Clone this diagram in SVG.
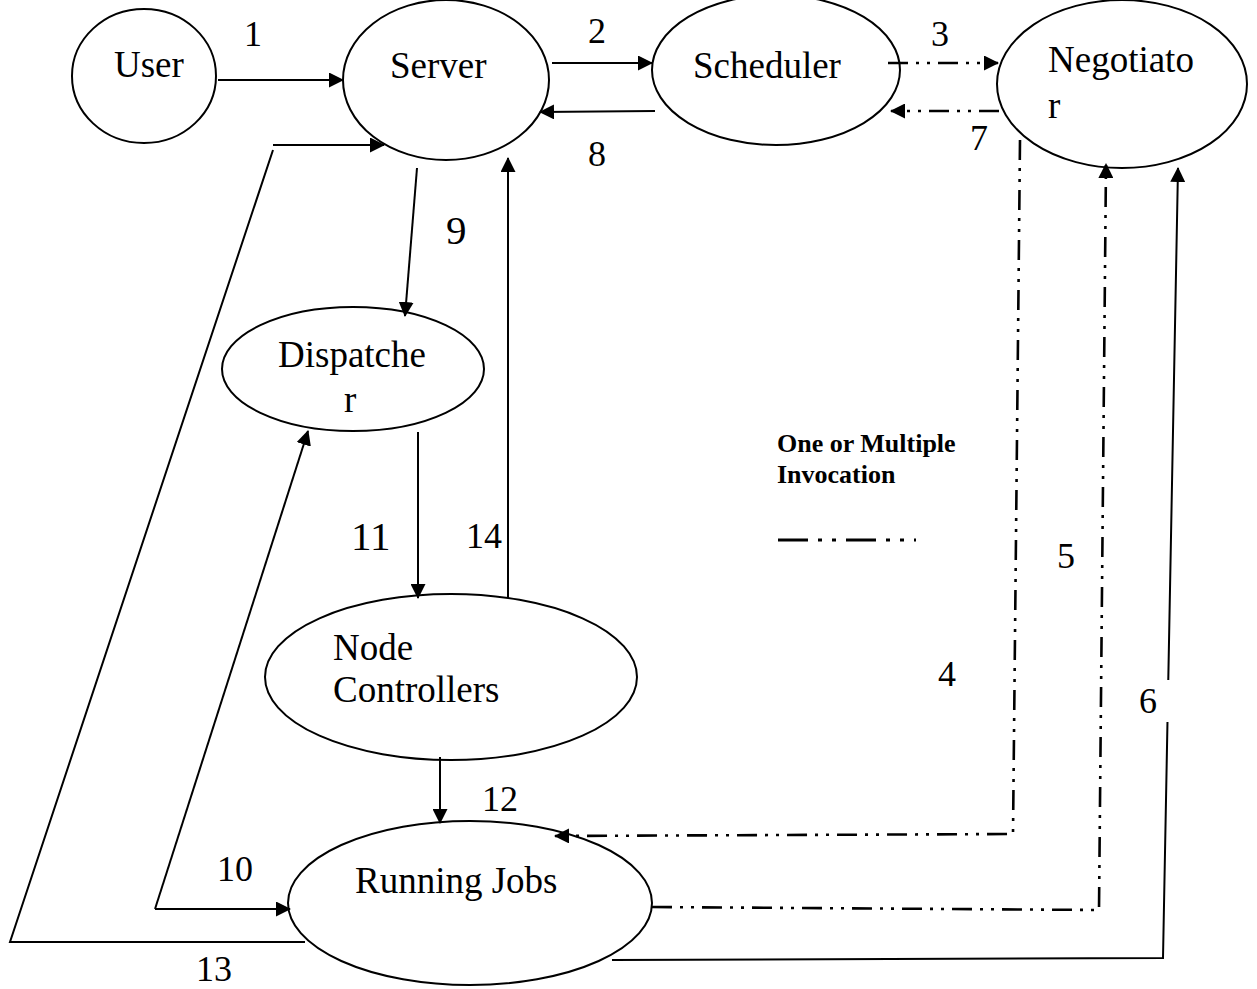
<svg xmlns="http://www.w3.org/2000/svg" width="1257" height="989" viewBox="0 0 1257 989">
  <style>
    .node { fill: #fff; stroke: #000; stroke-width: 2; }
    .lbl { font-family: "Liberation Serif", "Times New Roman", serif; font-size: 37px; fill: #000; }
    .num { font-family: "Liberation Serif", "Times New Roman", serif; font-size: 36px; fill: #000; }
    .big { font-size: 41px; }
    .legend { font-family: "Liberation Serif", "Times New Roman", serif; font-size: 26px; font-weight: bold; fill: #000; }
    .solid { fill: none; stroke: #000; stroke-width: 2; }
    .dash { fill: none; stroke: #000; stroke-width: 2.6; stroke-dasharray: 20 8 3 8 3 8; }
  </style>
  <defs>
    <marker id="arrowL" markerWidth="15" markerHeight="15" refX="14" refY="7.5" orient="auto" markerUnits="userSpaceOnUse" viewBox="0 0 15 15">
      <path d="M0,0 L15,7.5 L0,15 z" fill="#000"/>
    </marker>
  </defs>

  <rect width="1257" height="989" fill="#fff"/>

  <!-- nodes -->
  <g id="user">
    <ellipse class="node" cx="144" cy="76" rx="72" ry="67"/>
    <text class="lbl" x="114" y="77">User</text>
  </g>
  <g id="server">
    <ellipse class="node" cx="446" cy="80" rx="103" ry="80"/>
    <text class="lbl" x="390" y="78">Server</text>
  </g>
  <g id="scheduler">
    <ellipse class="node" cx="776" cy="70" rx="124" ry="75"/>
    <text class="lbl" x="693" y="78">Scheduler</text>
  </g>
  <g id="negotiator">
    <ellipse class="node" cx="1122" cy="84" rx="125" ry="84"/>
    <text class="lbl" x="1048" y="72">Negotiato</text>
    <text class="lbl" x="1048" y="118">r</text>
  </g>
  <g id="dispatcher">
    <ellipse class="node" cx="353" cy="369" rx="131" ry="62"/>
    <text class="lbl" x="278" y="367">Dispatche</text>
    <text class="lbl" x="344" y="412">r</text>
  </g>
  <g id="node-controllers">
    <ellipse class="node" cx="451" cy="677" rx="186" ry="83"/>
    <text class="lbl" x="333" y="660">Node</text>
    <text class="lbl" x="333" y="702">Controllers</text>
  </g>
  <g id="running-jobs">
    <ellipse class="node" cx="470" cy="903" rx="182" ry="82"/>
    <text class="lbl" x="355" y="893">Running Jobs</text>
  </g>

  <!-- connectors -->
  <g id="connectors">
    <!-- 1: User to Server -->
    <line class="solid" x1="218" y1="80" x2="343" y2="80" marker-end="url(#arrowL)"/>
    <!-- 2: Server to Scheduler -->
    <line class="solid" x1="552" y1="63" x2="652" y2="63" marker-end="url(#arrowL)"/>
    <!-- 3: Scheduler to Negotiator -->
    <line class="dash" x1="888" y1="63" x2="998" y2="63" marker-end="url(#arrowL)"/>
    <!-- 7: Negotiator to Scheduler -->
    <line class="dash" x1="999" y1="111" x2="891" y2="111" marker-end="url(#arrowL)"/>
    <!-- 8: Scheduler to Server -->
    <line class="solid" x1="655" y1="111" x2="540" y2="112" marker-end="url(#arrowL)"/>
    <!-- 9: Server to Dispatcher -->
    <line class="solid" x1="417" y1="168" x2="405" y2="316" marker-end="url(#arrowL)"/>
    <!-- 14: Node Controllers to Server -->
    <line class="solid" x1="508" y1="598" x2="508" y2="158" marker-end="url(#arrowL)"/>
    <!-- 11: Dispatcher to Node Controllers -->
    <line class="solid" x1="418" y1="432" x2="418" y2="598" marker-end="url(#arrowL)"/>
    <!-- 12: Node Controllers to Running Jobs -->
    <line class="solid" x1="440" y1="757" x2="440" y2="823" marker-end="url(#arrowL)"/>
    <!-- 13: Running Jobs back to Server -->
    <polyline class="solid" points="305,942 10,942 273,150"/>
    <line class="solid" x1="273" y1="145" x2="384" y2="145" marker-end="url(#arrowL)"/>
    <!-- 10: Dispatcher / Running Jobs -->
    <line class="solid" x1="155" y1="909" x2="290" y2="909" marker-end="url(#arrowL)"/>
    <line class="solid" x1="155" y1="909" x2="308" y2="431" marker-end="url(#arrowL)"/>
    <!-- 4: Negotiator to Running Jobs -->
    <polyline class="dash" points="1020,140 1013,834 555,836" marker-end="url(#arrowL)"/>
    <!-- 5: Running Jobs to Negotiator -->
    <polyline class="dash" points="652,907 1099,910 1106,164" marker-end="url(#arrowL)"/>
    <!-- 6: Running Jobs to Negotiator -->
    <polyline class="solid" points="612,960 1163,958 1178,168" marker-end="url(#arrowL)"/>
  </g>

  <!-- step numbers -->
  <g id="labels">
    <text class="num" x="244" y="46">1</text>
    <text class="num" x="588" y="43">2</text>
    <text class="num" x="931" y="46">3</text>
    <text class="num" x="970" y="150">7</text>
    <text class="num" x="588" y="166">8</text>
    <text class="num big" x="446" y="244">9</text>
    <text class="num big" x="351" y="550">11</text>
    <text class="num" x="466" y="548">14</text>
    <text class="num" x="482" y="811">12</text>
    <text class="num" x="217" y="881">10</text>
    <text class="num" x="196" y="981">13</text>
    <text class="num" x="1057" y="568">5</text>
    <text class="num" x="938" y="686">4</text>
    <rect x="1134" y="680" width="38" height="42" fill="#fff"/>
    <text class="num" x="1139" y="713">6</text>
  </g>

  <!-- legend -->
  <g id="legend">
    <text class="legend" x="777" y="452">One or Multiple</text>
    <text class="legend" x="777" y="483">Invocation</text>
    <line x1="778" y1="540" x2="916" y2="540" stroke="#000" stroke-width="3" stroke-dasharray="30 10 4 10 4 10"/>
  </g>
</svg>
